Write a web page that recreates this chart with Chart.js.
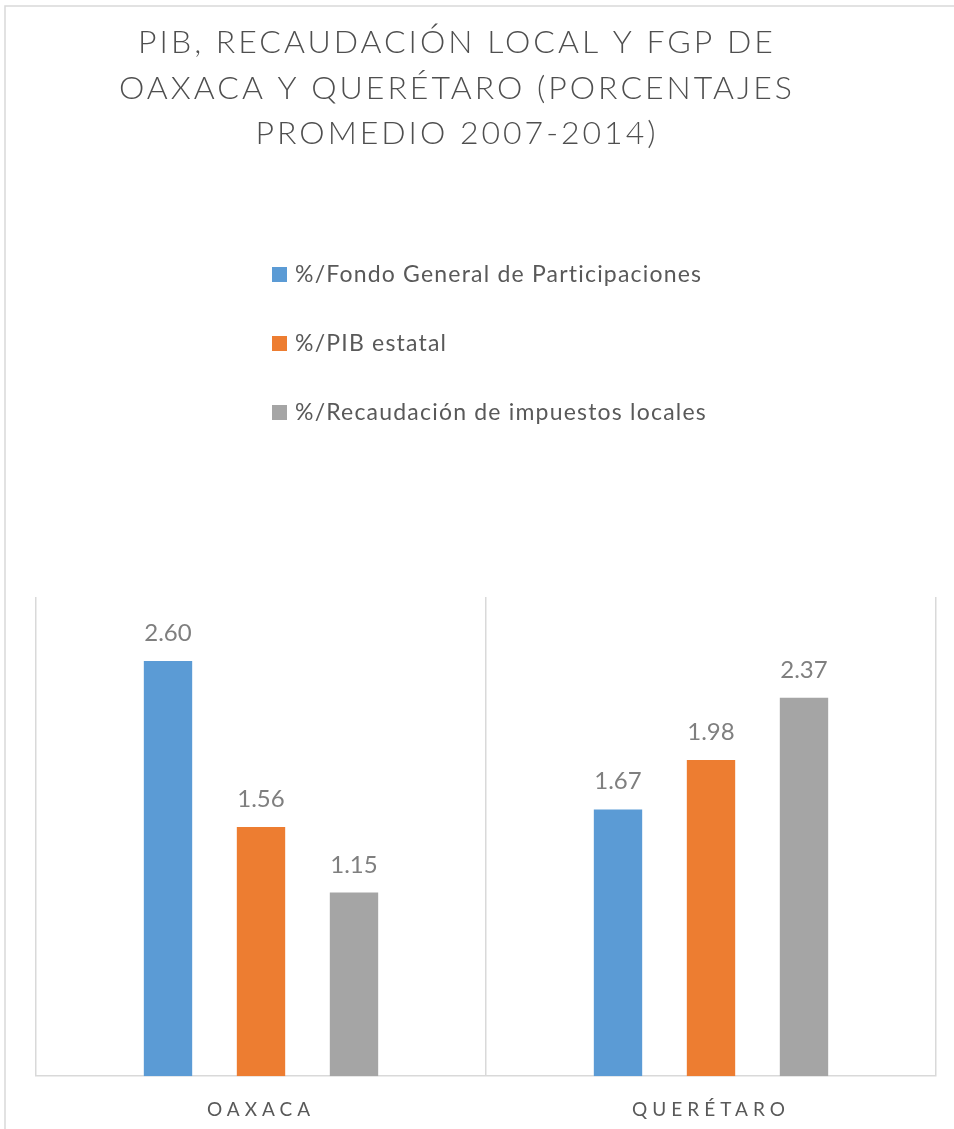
<!DOCTYPE html>
<html>
<head>
<meta charset="utf-8">
<script src="https://cdn.jsdelivr.net/npm/chart.js@4"></script>
<style>
  html, body { margin: 0; padding: 0; background: #fff; }
  #wrap { width: 954px; height: 1129px; position: relative; }
</style>
</head>
<body>
<div id="wrap"><canvas id="chart"></canvas></div>
<script>
// Données
const titleLines = ['PIB, RECAUDACIÓN LOCAL Y FGP DE', 'OAXACA Y QUERÉTARO (PORCENTAJES', 'PROMEDIO 2007-2014)'];
const estados = ['OAXACA', 'QUERÉTARO'];
const seriesNames = ['%/Fondo General de Participaciones', '%/PIB estatal', '%/Recaudación de impuestos locales'];
const fondoGeneral = [2.60, 1.67];
const pibEstatal = [1.56, 1.98];
const recaudacion = [1.15, 2.37];
const colores = ['#5B9BD5', '#ED7D31', '#A5A5A5'];

const FONT = 'Lato, "Open Sans", sans-serif';

// Cadre, titre, légende et étiquettes dessinés à la main
const decorPlugin = {
  id: 'decor',
  beforeDraw(chart) {
    const ctx = chart.ctx;
    ctx.save();
    ctx.strokeStyle = '#d9d9d9';
    ctx.lineWidth = 1.5;
    ctx.strokeRect(5, 6, 1000, 1200);
    ctx.restore();
    // espacement des lettres pour les étiquettes de l'axe X
    ctx.letterSpacing = '5px';
  },
  beforeDatasetsDraw(chart) {
    chart.ctx.letterSpacing = '0px';
  },
  afterDatasetsDraw(chart) {
    const ctx = chart.ctx;
    ctx.save();
    ctx.font = '24px ' + FONT;
    ctx.fillStyle = '#7f7f7f';
    ctx.textAlign = 'center';
    ctx.textBaseline = 'alphabetic';
    chart.data.datasets.forEach((ds, i) => {
      chart.getDatasetMeta(i).data.forEach((bar, j) => {
        ctx.fillText(ds.data[j].toFixed(2), bar.x, bar.y - 20);
      });
    });
    ctx.restore();
  },
  afterDraw(chart) {
    const ctx = chart.ctx;
    ctx.save();
    // titre
    ctx.font = '300 32px ' + FONT;
    ctx.fillStyle = '#4f4f4f';
    ctx.textAlign = 'center';
    ctx.letterSpacing = '3px';
    titleLines.forEach((line, i) => {
      ctx.fillText(line, 457, 53 + i * 45.5);
    });
    // légende verticale
    ctx.letterSpacing = '1.2px';
    ctx.textAlign = 'left';
    ctx.font = '23px ' + FONT;
    chart.data.datasets.forEach((ds, i) => {
      const base = 282 + i * 69;
      ctx.fillStyle = ds.backgroundColor;
      ctx.fillRect(272, base - 15, 15, 15);
      ctx.fillStyle = '#595959';
      ctx.fillText(ds.label, 295, base);
    });
    ctx.restore();
  }
};

new Chart(document.getElementById('chart'), {
  type: 'bar',
  data: {
    labels: estados,
    datasets: [
      { label: seriesNames[0], data: fondoGeneral, backgroundColor: colores[0] },
      { label: seriesNames[1], data: pibEstatal, backgroundColor: colores[1] },
      { label: seriesNames[2], data: recaudacion, backgroundColor: colores[2] }
    ]
  },
  options: {
    responsive: true,
    maintainAspectRatio: false,
    animation: false,
    categoryPercentage: 0.62,
    barPercentage: 0.52,
    layout: { padding: { top: 597, left: 36, right: 18, bottom: 6 } },
    plugins: {
      legend: { display: false },
      title: { display: false },
      tooltip: { enabled: false }
    },
    scales: {
      x: {
        afterFit(scale) { scale.height -= 20; },
        grid: { color: '#d9d9d9', lineWidth: 1.5, drawTicks: false, offset: true },
        border: { color: '#d9d9d9', width: 1.5 },
        ticks: { color: '#595959', font: { family: FONT, size: 19 }, padding: 22 }
      },
      y: {
        display: false,
        min: 0,
        max: 3
      }
    }
  },
  plugins: [decorPlugin]
});
</script>
</body>
</html>
